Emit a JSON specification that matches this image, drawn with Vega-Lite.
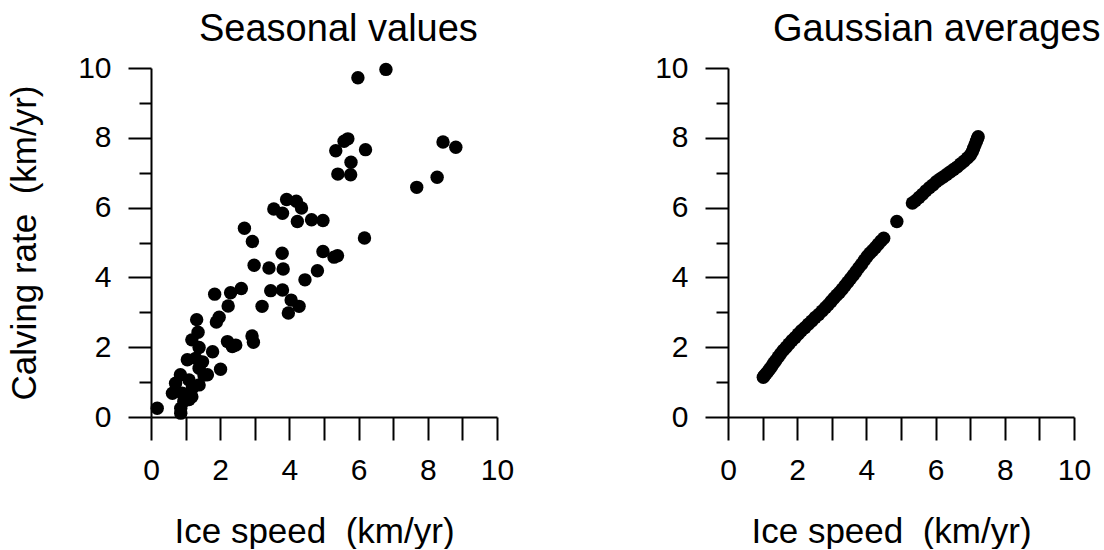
{
  "$schema": "https://vega.github.io/schema/vega-lite/v6.json",
  "background": "white",
  "padding": {"left": 6, "top": 11, "right": 0, "bottom": 0},
  "bounds": "flush",
  "spacing": 231,
  "config": {
    "view": {"stroke": null},
    "font": "Liberation Sans",
    "axis": {
      "grid": false,
      "domainColor": "black",
      "domainWidth": 2,
      "tickColor": "black",
      "tickWidth": 2,
      "labelColor": "black",
      "labelFont": "Liberation Sans",
      "labelFontSize": 30,
      "titleFont": "Liberation Sans",
      "titleFontSize": 35,
      "titleFontWeight": "normal",
      "titleColor": "black"
    },
    "title": {"font": "Liberation Sans", "fontSize": 38, "fontWeight": "normal", "color": "black", "anchor": "start", "frame": "group", "baseline": "alphabetic", "offset": 4}
  },
  "datasets": {
    "seasonal": [
      {"s": 5.98, "c": 9.72}, {"s": 6.79, "c": 9.96}, {"s": 5.69, "c": 7.97}, {"s": 5.58, "c": 7.90},
      {"s": 5.34, "c": 7.63}, {"s": 6.20, "c": 7.66}, {"s": 5.78, "c": 7.30}, {"s": 5.40, "c": 6.96},
      {"s": 5.77, "c": 6.94}, {"s": 8.44, "c": 7.88}, {"s": 8.81, "c": 7.73}, {"s": 8.27, "c": 6.87},
      {"s": 7.68, "c": 6.58}, {"s": 6.17, "c": 5.13}, {"s": 4.97, "c": 4.74}, {"s": 5.39, "c": 4.62},
      {"s": 5.29, "c": 4.58}, {"s": 4.81, "c": 4.19}, {"s": 4.64, "c": 5.65}, {"s": 4.97, "c": 5.63},
      {"s": 3.55, "c": 5.96}, {"s": 3.80, "c": 5.84}, {"s": 3.92, "c": 6.23}, {"s": 4.20, "c": 6.18},
      {"s": 4.35, "c": 5.99}, {"s": 4.23, "c": 5.60}, {"s": 2.70, "c": 5.41}, {"s": 2.93, "c": 5.03},
      {"s": 3.79, "c": 4.69}, {"s": 2.98, "c": 4.35}, {"s": 3.41, "c": 4.27}, {"s": 3.82, "c": 4.24},
      {"s": 4.45, "c": 3.93}, {"s": 3.46, "c": 3.62}, {"s": 3.80, "c": 3.64}, {"s": 4.05, "c": 3.35},
      {"s": 4.28, "c": 3.17}, {"s": 3.97, "c": 2.98}, {"s": 3.21, "c": 3.17}, {"s": 1.84, "c": 3.52},
      {"s": 2.30, "c": 3.56}, {"s": 2.61, "c": 3.68}, {"s": 2.23, "c": 3.18}, {"s": 1.97, "c": 2.86},
      {"s": 1.89, "c": 2.72}, {"s": 1.32, "c": 2.79}, {"s": 1.36, "c": 2.43}, {"s": 1.18, "c": 2.21},
      {"s": 1.39, "c": 1.99}, {"s": 2.21, "c": 2.16}, {"s": 2.45, "c": 2.06}, {"s": 2.35, "c": 2.02},
      {"s": 2.92, "c": 2.32}, {"s": 2.96, "c": 2.14}, {"s": 1.78, "c": 1.87}, {"s": 1.05, "c": 1.64},
      {"s": 1.29, "c": 1.68}, {"s": 1.49, "c": 1.58}, {"s": 1.39, "c": 1.40}, {"s": 1.63, "c": 1.21},
      {"s": 2.01, "c": 1.37}, {"s": 0.85, "c": 1.21}, {"s": 0.71, "c": 0.97}, {"s": 0.62, "c": 0.68},
      {"s": 0.90, "c": 0.68}, {"s": 1.18, "c": 0.58}, {"s": 1.19, "c": 0.82}, {"s": 0.86, "c": 0.25},
      {"s": 0.86, "c": 0.11}, {"s": 0.18, "c": 0.25}, {"s": 1.10, "c": 1.06}, {"s": 1.39, "c": 0.92},
      {"s": 1.53, "c": 1.20}, {"s": 0.95, "c": 0.45}, {"s": 1.10, "c": 0.50}
    ],
    "gaussian": [
      {"s": 1.02, "c": 1.14}, {"s": 1.05, "c": 1.18}, {"s": 1.10, "c": 1.24}, {"s": 1.15, "c": 1.30},
      {"s": 1.20, "c": 1.37}, {"s": 1.26, "c": 1.45}, {"s": 1.32, "c": 1.54}, {"s": 1.38, "c": 1.62},
      {"s": 1.45, "c": 1.72}, {"s": 1.52, "c": 1.81}, {"s": 1.60, "c": 1.91}, {"s": 1.68, "c": 2.00},
      {"s": 1.76, "c": 2.09}, {"s": 1.85, "c": 2.19}, {"s": 1.94, "c": 2.28}, {"s": 2.03, "c": 2.38},
      {"s": 2.12, "c": 2.47}, {"s": 2.22, "c": 2.56}, {"s": 2.32, "c": 2.66}, {"s": 2.42, "c": 2.75},
      {"s": 2.52, "c": 2.85}, {"s": 2.62, "c": 2.94}, {"s": 2.72, "c": 3.04}, {"s": 2.82, "c": 3.14},
      {"s": 2.90, "c": 3.22}, {"s": 2.98, "c": 3.31}, {"s": 3.06, "c": 3.40}, {"s": 3.14, "c": 3.49},
      {"s": 3.22, "c": 3.57}, {"s": 3.30, "c": 3.66}, {"s": 3.38, "c": 3.76}, {"s": 3.46, "c": 3.86},
      {"s": 3.54, "c": 3.96}, {"s": 3.62, "c": 4.06}, {"s": 3.70, "c": 4.17}, {"s": 3.78, "c": 4.28},
      {"s": 3.86, "c": 4.38}, {"s": 3.94, "c": 4.49}, {"s": 4.02, "c": 4.60}, {"s": 4.10, "c": 4.69},
      {"s": 4.18, "c": 4.77}, {"s": 4.26, "c": 4.86}, {"s": 4.34, "c": 4.95}, {"s": 4.42, "c": 5.04},
      {"s": 4.50, "c": 5.12}, {"s": 4.88, "c": 5.60},
      {"s": 5.33, "c": 6.13}, {"s": 5.42, "c": 6.20}, {"s": 5.52, "c": 6.29}, {"s": 5.62, "c": 6.38},
      {"s": 5.72, "c": 6.48}, {"s": 5.82, "c": 6.57}, {"s": 5.92, "c": 6.65}, {"s": 6.02, "c": 6.74},
      {"s": 6.12, "c": 6.81}, {"s": 6.22, "c": 6.88}, {"s": 6.32, "c": 6.95}, {"s": 6.42, "c": 7.02},
      {"s": 6.52, "c": 7.09}, {"s": 6.62, "c": 7.16}, {"s": 6.72, "c": 7.25}, {"s": 6.82, "c": 7.33},
      {"s": 6.92, "c": 7.42}, {"s": 7.00, "c": 7.50}, {"s": 7.06, "c": 7.60}, {"s": 7.10, "c": 7.70},
      {"s": 7.14, "c": 7.80}, {"s": 7.18, "c": 7.90}, {"s": 7.21, "c": 7.98}, {"s": 7.23, "c": 8.03}
    ]
  },
  "hconcat": [
    {
      "width": 346,
      "height": 349,
      "title": {"text": "Seasonal values", "dx": 48},
      "data": {"name": "seasonal"},
      "mark": {"type": "circle", "color": "black", "opacity": 1, "size": 180},
      "encoding": {
        "x": {
          "field": "s", "type": "quantitative",
          "scale": {"domain": [0, 10], "nice": false, "zero": false},
          "axis": {
            "values": [0, 1, 2, 3, 4, 5, 6, 7, 8, 9, 10],
            "labelExpr": "datum.value % 2 === 0 ? datum.label : ''",
            "tickSize": 23, "labelPadding": 15, "labelFlush": false, "labelOverlap": false,
            "title": "Ice speed \u00a0(km/yr)", "titleX": 163, "titleY": 125, "titleBaseline": "alphabetic"
          }
        },
        "y": {
          "field": "c", "type": "quantitative",
          "scale": {"domain": [0, 10], "nice": false, "zero": false},
          "axis": {
            "values": [0, 1, 2, 3, 4, 5, 6, 7, 8, 9, 10],
            "labelExpr": "datum.value % 2 === 0 ? datum.label : ''",
            "tickSize": {"condition": {"test": "datum.value % 2 === 0", "value": 23}, "value": 12},
            "labelPadding": 17, "labelFlush": false, "labelOverlap": false,
            "title": "Calving rate \u00a0(km/yr)", "titleX": -116, "titleY": 174.5, "titleBaseline": "alphabetic", "titleAngle": -90, "titleAlign": "center"
          }
        }
      }
    },
    {
      "width": 346,
      "height": 349,
      "title": {"text": "Gaussian averages", "dx": 45},
      "data": {"name": "gaussian"},
      "mark": {"type": "circle", "color": "black", "opacity": 1, "size": 180},
      "encoding": {
        "x": {
          "field": "s", "type": "quantitative",
          "scale": {"domain": [0, 10], "nice": false, "zero": false},
          "axis": {
            "values": [0, 1, 2, 3, 4, 5, 6, 7, 8, 9, 10],
            "labelExpr": "datum.value % 2 === 0 ? datum.label : ''",
            "tickSize": 23, "labelPadding": 15, "labelFlush": false, "labelOverlap": false,
            "title": "Ice speed \u00a0(km/yr)", "titleX": 163, "titleY": 125, "titleBaseline": "alphabetic"
          }
        },
        "y": {
          "field": "c", "type": "quantitative",
          "scale": {"domain": [0, 10], "nice": false, "zero": false},
          "axis": {
            "values": [0, 1, 2, 3, 4, 5, 6, 7, 8, 9, 10],
            "labelExpr": "datum.value % 2 === 0 ? datum.label : ''",
            "tickSize": {"condition": {"test": "datum.value % 2 === 0", "value": 23}, "value": 12},
            "labelPadding": 17, "labelFlush": false, "labelOverlap": false,
            "title": null
          }
        }
      }
    }
  ]
}
